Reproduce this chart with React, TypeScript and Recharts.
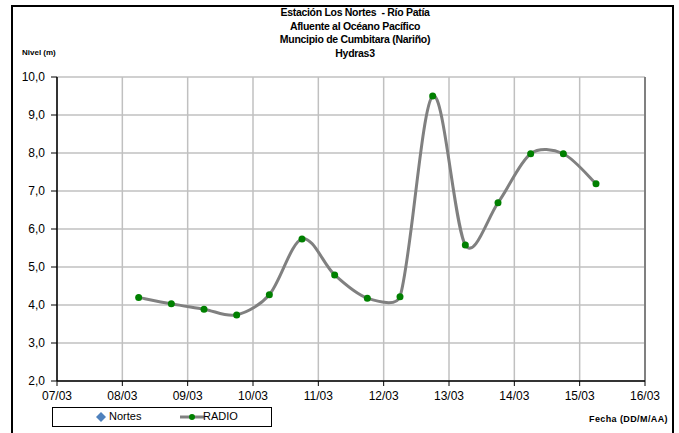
import { LineChart, Line, XAxis, YAxis, CartesianGrid, ReferenceLine } from "recharts";

// lecturas del sensor RADIO (fecha hora -> nivel en m)
const fechas = [
  "08/03 06:00", "08/03 18:00", "09/03 06:00", "09/03 18:00", "10/03 06:00",
  "10/03 18:00", "11/03 06:00", "11/03 18:00", "12/03 06:00", "12/03 18:00",
  "13/03 06:00", "13/03 18:00", "14/03 06:00", "14/03 18:00", "15/03 06:00",
];
const radio = [4.2, 4.03, 3.89, 3.74, 4.27, 5.74, 4.79, 4.18, 4.22, 9.5, 5.58, 6.69, 7.98, 7.98, 7.19];
const diasEje = ["07/03", "08/03", "09/03", "10/03", "11/03", "12/03", "13/03", "14/03", "15/03", "16/03"];
const nivelTicks = [2, 3, 4, 5, 6, 7, 8, 9, 10];

const FONT = "'Liberation Sans', Arial, sans-serif";

// days since 07/03
const toDias = (f: string) => {
  const [fecha, hora] = f.split(" ");
  const dd = parseInt(fecha.split("/")[0], 10);
  const hh = parseInt(hora.split(":")[0], 10);
  return dd - 7 + hh / 24;
};

const data = fechas.map((f, i) => ({ t: toDias(f), radio: radio[i] }));

// smoothed line like excel: catmull-rom tangents, capped by segment length
const excelCurve = (context: any) => {
  let pts: number[][] = [];
  const dist = (a: number[], b: number[]) => Math.hypot(b[0] - a[0], b[1] - a[1]);
  return {
    areaStart() {},
    areaEnd() {},
    lineStart() {
      pts = [];
    },
    point(x: number, y: number) {
      pts.push([+x, +y]);
    },
    lineEnd() {
      if (!pts.length) return;
      context.moveTo(pts[0][0], pts[0][1]);
      for (let i = 0; i < pts.length - 1; i++) {
        const p0 = pts[i - 1] || pts[i];
        const p1 = pts[i];
        const p2 = pts[i + 1];
        const p3 = pts[i + 2] || p2;
        const seg = dist(p1, p2);
        const d1 = dist(p0, p2) || 1;
        const d2 = dist(p1, p3) || 1;
        const l1 = Math.min(seg / 3, d1 / 6);
        const l2 = Math.min(seg / 3, d2 / 6);
        context.bezierCurveTo(
          p1[0] + ((p2[0] - p0[0]) / d1) * l1,
          p1[1] + ((p2[1] - p0[1]) / d1) * l1,
          p2[0] - ((p3[0] - p1[0]) / d2) * l2,
          p2[1] - ((p3[1] - p1[1]) / d2) * l2,
          p2[0],
          p2[1]
        );
      }
    },
  };
};

export default function App() {
  return (
    <div
      style={{
        position: "fixed",
        left: 0,
        top: 0,
        width: 679,
        height: 433,
        background: "#fff",
        overflow: "hidden",
        fontFamily: FONT,
      }}
    >
      <div
        style={{
          position: "absolute",
          left: 11,
          top: 5,
          width: 659,
          height: 440,
          border: "2px solid #000",
        }}
      />
      <div
        style={{
          position: "absolute",
          left: 255,
          top: 6,
          width: 200,
          textAlign: "center",
          fontSize: 10.5,
          letterSpacing: -0.3,
          fontWeight: "bold",
          lineHeight: "13.7px",
          color: "#000",
        }}
      >
        <div>Estación Los Nortes&nbsp; - Río Patía</div>
        <div>Afluente al Océano Pacífico</div>
        <div>Muncipio de Cumbitara (Nariño)</div>
        <div>Hydras3</div>
      </div>
      <div style={{ position: "absolute", left: 22, top: 48, fontSize: 8, fontWeight: "bold" }}>Nivel (m)</div>
      <div
        style={{
          position: "absolute",
          right: 11,
          top: 414,
          fontSize: 9,
          letterSpacing: 0.4,
          fontWeight: "bold",
        }}
      >
        Fecha (DD/M/AA)
      </div>

      <LineChart
        width={679}
        height={433}
        data={data}
        margin={{ top: 77, right: 34, left: 0, bottom: 30 }}
        style={{ position: "absolute", left: 0, top: 0 }}
      >
        <CartesianGrid stroke="#c0c0c0" strokeWidth={1.5} />
        <ReferenceLine x={9} stroke="#808080" strokeWidth={2} />
        <XAxis
          type="number"
          dataKey="t"
          domain={[0, 9]}
          ticks={diasEje.map((_, i) => i)}
          tickFormatter={(v: number) => diasEje[v]}
          interval={0}
          height={22}
          axisLine={{ stroke: "#000", strokeWidth: 1.5 }}
          tickLine={{ stroke: "#000" }}
          tickSize={5}
          tickMargin={5}
          tick={{ fontSize: 12, fill: "#000", fontFamily: FONT }}
        />
        <YAxis
          type="number"
          domain={[2, 10]}
          ticks={nivelTicks}
          tickFormatter={(v: number) => v.toFixed(1).replace(".", ",")}
          width={57}
          interval={0}
          axisLine={{ stroke: "#000", strokeWidth: 1.5 }}
          tickLine={{ stroke: "#000" }}
          tickSize={6}
          tickMargin={6}
          tick={{ fontSize: 12, fill: "#000", fontFamily: FONT }}
        />
        <Line
          dataKey="radio"
          name="RADIO"
          type={excelCurve as any}
          stroke="#808080"
          strokeWidth={3}
          dot={{ r: 3.5, fill: "#008000", stroke: "#008000", strokeWidth: 0 }}
          activeDot={false}
          isAnimationActive={false}
        />
      </LineChart>

      <div
        style={{
          position: "absolute",
          left: 52,
          top: 407,
          width: 218,
          height: 18,
          border: "1.5px solid #000",
          fontSize: 11,
        }}
      >
        <svg width={10} height={10} style={{ position: "absolute", left: 43, top: 4 }}>
          <polygon points="5,0 10,5 5,10 0,5" fill="#4f81bd" />
        </svg>
        <span style={{ position: "absolute", left: 56, top: 2 }}>Nortes</span>
        <svg width={24} height={10} style={{ position: "absolute", left: 127, top: 4 }}>
          <line x1={0} y1={5} x2={24} y2={5} stroke="#808080" strokeWidth={3} />
          <circle cx={12} cy={5} r={3} fill="#008000" />
        </svg>
        <span style={{ position: "absolute", left: 150, top: 2 }}>RADIO</span>
      </div>
    </div>
  );
}
